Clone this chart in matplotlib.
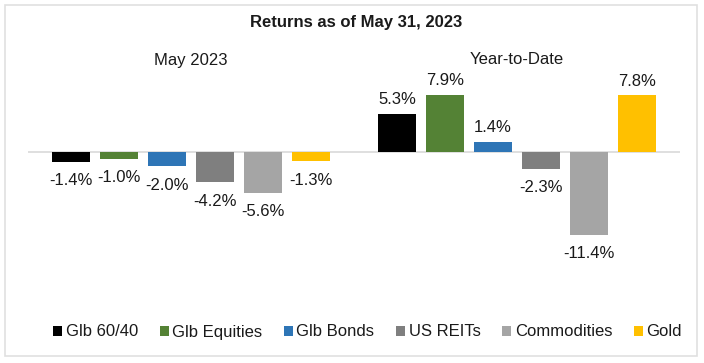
import matplotlib
matplotlib.use("Agg")
import matplotlib.pyplot as plt
from matplotlib.patches import Rectangle
import matplotlib.transforms as mtransforms
import numpy as np

plt.rcParams['font.family'] = ['Liberation Sans', 'DejaVu Sans']

title = "Returns as of May 31, 2023"
periods = ["May 2023", "Year-to-Date"]
series = ["Glb 60/40", "Glb Equities", "Glb Bonds", "US REITs", "Commodities", "Gold"]
colors = ["#000000", "#548235", "#2E75B6", "#7F7F7F", "#A5A5A5", "#FFC000"]
may_2023 = [-1.4, -1.0, -2.0, -4.2, -5.6, -1.3]
ytd = [5.3, 7.9, 1.4, -2.3, -11.4, 7.8]
values = np.array([may_2023, ytd])  # shape (periods, series)

W, H = 704, 363
fig = plt.figure(figsize=(W / 100, H / 100), dpi=100)
fig.patch.set_facecolor("white")

ax_left, ax_right = 28, 680
ax_top, ax_bot = 75, 290
ax = fig.add_axes([ax_left / W, 1 - ax_bot / H, (ax_right - ax_left) / W, (ax_bot - ax_top) / H])

px_per_unit = 7.25
zero_px = 152
ax.set_ylim(-(ax_bot - zero_px) / px_per_unit, (zero_px - ax_top) / px_per_unit)
ax.set_xlim(-0.5, 1.5)

step = 48 / 327
width = 38 / 327
x = np.arange(len(periods))
text_color = "#1a1a1a"
for i, (name, col) in enumerate(zip(series, colors)):
    offs = (i - 2.5) * step
    bars = ax.bar(x + offs, values[:, i], width=width, color=col, label=name, zorder=3)
    for b, v in zip(bars, values[:, i]):
        if v >= 0:
            ax.annotate(f"{v:.1f}%", (b.get_x() + b.get_width() / 2, v),
                        xytext=(0, 5), textcoords="offset points",
                        ha="center", va="bottom", fontsize=12, color=text_color)
        else:
            ax.annotate(f"{v:.1f}%", (b.get_x() + b.get_width() / 2, v),
                        xytext=(0, -8), textcoords="offset points",
                        ha="center", va="top", fontsize=12, color=text_color)

ax.axhline(0, color="#D9D9D9", lw=1.2, zorder=2)
for s in ax.spines.values():
    s.set_visible(False)
ax.set_xticks([])
ax.set_yticks([])
ax.patch.set_alpha(0)

# period labels at the top
trans = mtransforms.blended_transform_factory(ax.transData, fig.transFigure)
for xi, p in zip(x, periods):
    ax.text(xi, 1 - 60 / H, p, transform=trans, ha="center", va="center",
            fontsize=12, color=text_color)

fig.text(356.5 / W, 1 - 22 / H, title, ha="center", va="center",
         fontsize=12, fontweight="bold", color=text_color)

leg = fig.legend(loc="center", bbox_to_anchor=(367.5 / W, 1 - 332 / H), ncol=6,
                 frameon=False, fontsize=12, handlelength=0.55, handleheight=0.55,
                 handletextpad=0.2, columnspacing=1.3, borderaxespad=0)
for t in leg.get_texts():
    t.set_color(text_color)

fig.add_artist(Rectangle((5 / W, 1 - 356 / H), 692 / W, 351.5 / H,
                         transform=fig.transFigure, fill=False,
                         ec="#E0E0E0", lw=1.2))

fig.savefig("out.png", dpi=100, facecolor="white")
